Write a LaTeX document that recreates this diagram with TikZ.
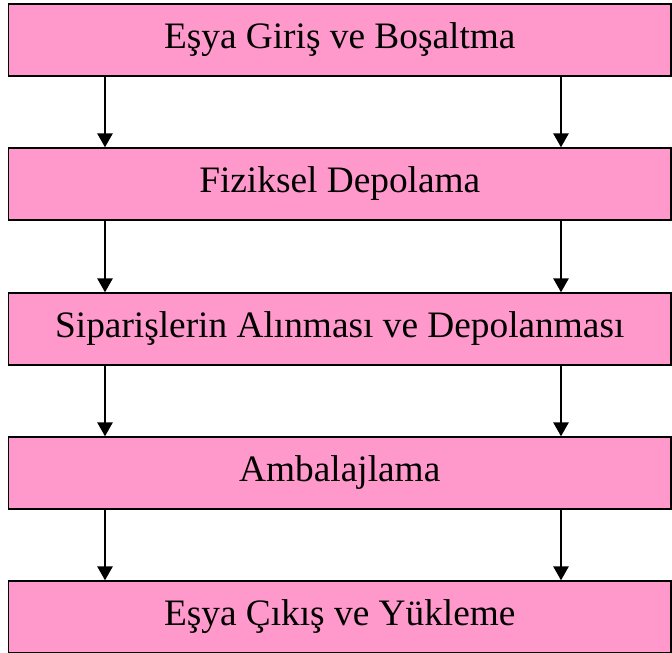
\documentclass[tikz,border=0pt]{standalone}
\usepackage{fontspec}
\setmainfont{Liberation Serif}
\usepackage{tikz}
\usetikzlibrary{arrows.meta}

\definecolor{stagepink}{HTML}{FF99CC}

\begin{document}
\begin{tikzpicture}[x=0.75pt,y=-0.75pt,
    stage/.style={draw, line width=1.1pt, fill=stagepink, minimum width=662.5*0.75pt,
      minimum height=72*0.75pt, inner sep=0pt, font=\fontsize{28}{34}\selectfont},
    flow/.style={line width=1.5pt, -{Triangle[width=11.5pt,length=10.5pt]}}]
    \useasboundingbox (0,0) rectangle (672,653);
    % Nodes
    \node[stage] (giris) at (339.75,40) {Eşya Giriş ve Boşaltma};
    \node[stage] (depo) at (339.75,184) {Fiziksel Depolama};
    \node[stage] (siparis) at (339.75,329) {Siparişlerin Alınması ve Depolanması};
    \node[stage] (ambalaj) at (339.75,473) {Ambalajlama};
    \node[stage] (cikis) at (339.75,617) {Eşya Çıkış ve Yükleme};
    \coordinate (left) at (105,0);
    \coordinate (right) at (561,0);

    % Edges
    \foreach \a/\b in {giris/depo, depo/siparis, siparis/ambalaj, ambalaj/cikis} {
        \draw[flow] (\a.south -| left) -- (\b.north -| left);
        \draw[flow] (\a.south -| right) -- (\b.north -| right);
    }
\end{tikzpicture}
\end{document}
